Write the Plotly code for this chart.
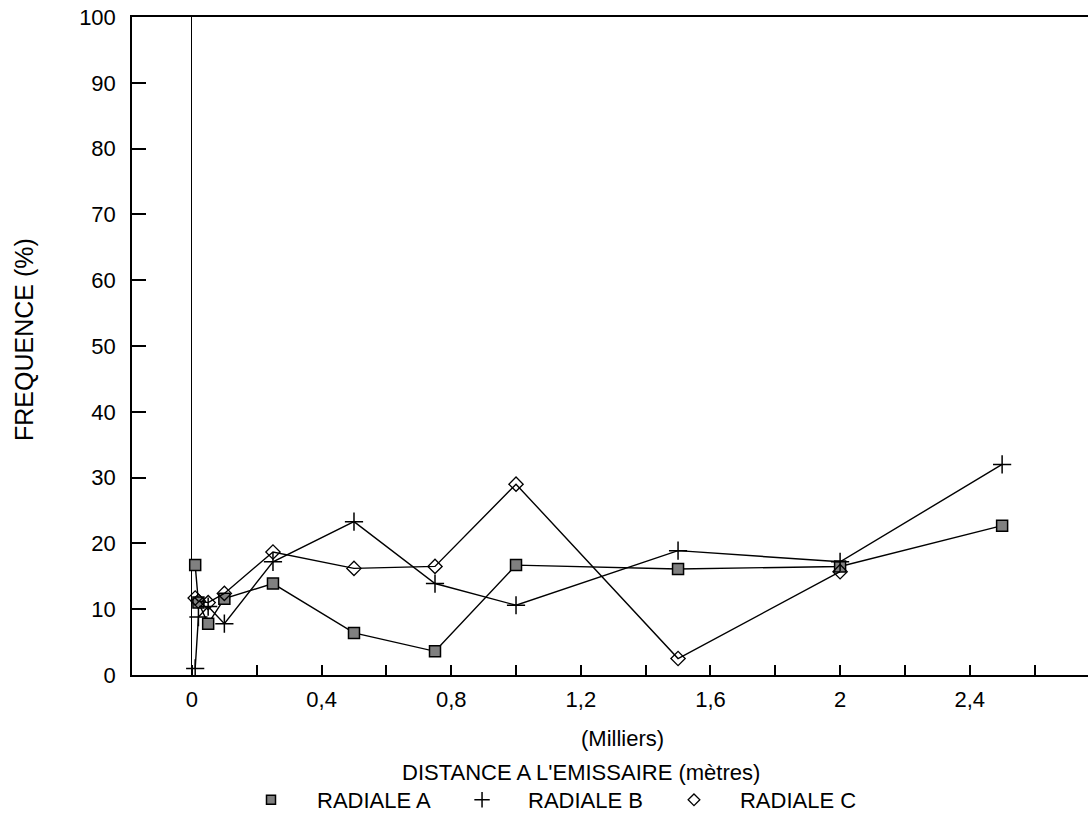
import plotly.graph_objects as go

# distance (milliers de mètres)
distance = [0.01, 0.02, 0.05, 0.1, 0.25, 0.5, 0.75, 1.0, 1.5, 2.0, 2.5]
radiale_a = [16.7, 11.0, 7.8, 11.6, 13.9, 6.4, 3.6, 16.7, 16.1, 16.5, 22.7]
radiale_b = [1.0, 8.8, 10.4, 7.8, 17.2, 23.3, 13.9, 10.6, 18.9, 17.2, 32.0]
radiale_c = [11.7, 11.2, 11.0, 12.4, 18.7, 16.2, 16.5, 29.0, 2.5, 15.7, None]

x_tickvals = [0, 0.2, 0.4, 0.6, 0.8, 1.0, 1.2, 1.4, 1.6, 1.8, 2.0, 2.2, 2.4, 2.6]
x_ticktext = ["0", "", "0,4", "", "0,8", "", "1,2", "", "1,6", "", "2", "", "2,4", ""]
y_tickvals = [0, 10, 20, 30, 40, 50, 60, 70, 80, 90, 100]

FONT = "Liberation Sans, Arial, sans-serif"

styles = {
    "RADIALE A": dict(symbol="square", size=11, color="#808080",
                      line=dict(color="black", width=1.5)),
    "RADIALE B": dict(symbol="cross-thin", size=13, color="black",
                      line=dict(color="black", width=1.5)),
    "RADIALE C": dict(symbol="diamond-open", size=11, color="black",
                      line=dict(color="black", width=1.3)),
}

fig = go.Figure()
for name, ys in [("RADIALE A", radiale_a), ("RADIALE B", radiale_b), ("RADIALE C", radiale_c)]:
    fig.add_trace(go.Scatter(
        x=distance, y=ys, mode="lines+markers", name=name, showlegend=False,
        line=dict(color="black", width=1.4), marker=styles[name],
    ))
# legend entries (marker only)
for name in ["RADIALE A", "RADIALE B", "RADIALE C"]:
    m = dict(styles[name])
    m["size"] = m["size"] - 2
    fig.add_trace(go.Scatter(x=[None], y=[None], mode="markers", name=name,
                             marker=m, showlegend=True))

fig.update_layout(
    width=1088, height=815,
    margin=dict(l=132, r=0, t=17, b=140, autoexpand=False),
    paper_bgcolor="white", plot_bgcolor="white",
    font=dict(family=FONT, size=22, color="black"),
    showlegend=True,
    legend=dict(orientation="h", xref="container", x=225 / 1088, xanchor="left",
                yref="container", y=(815 - 800) / 815, yanchor="middle",
                font=dict(size=22), itemwidth=82, bgcolor="rgba(0,0,0,0)"),
    xaxis=dict(range=[-0.185, 2.765], tickvals=x_tickvals, ticktext=x_ticktext,
               ticks="inside", ticklen=10, tickwidth=1.5, tickcolor="black",
               showline=True, linecolor="black", linewidth=1.5, mirror=True,
               showgrid=False, zeroline=True, zerolinecolor="black", zerolinewidth=1,
               tickfont=dict(size=22), ticklabelstandoff=4),
    yaxis=dict(range=[0, 100], tickvals=y_tickvals,
               ticks="inside", ticklen=14, tickwidth=1.5, tickcolor="black",
               showline=True, linecolor="black", linewidth=1.5,
               showgrid=False, zeroline=False,
               tickfont=dict(size=22), ticklabelstandoff=10),
)

fig.add_annotation(text="DISTANCE A L'EMISSAIRE (mètres)", xref="x", yref="paper",
                   x=1.2, y=(675 - 772) / 658, xanchor="center", yanchor="middle",
                   showarrow=False, font=dict(size=22))
fig.add_annotation(text="(Milliers)", xref="x", yref="paper",
                   x=1.33, y=(675 - 738) / 658, xanchor="center", yanchor="middle",
                   showarrow=False, font=dict(size=22))
fig.add_annotation(text="FREQUENCE (%)", xref="paper", yref="paper",
                   x=(24 - 132) / 956, y=(675 - 340) / 658, xanchor="center", yanchor="middle",
                   textangle=-90, showarrow=False, font=dict(size=25))

fig.write_html("out.html", config={"displayModeBar": False},
               post_script="document.body.style.margin='0';document.body.style.overflow='hidden';")
